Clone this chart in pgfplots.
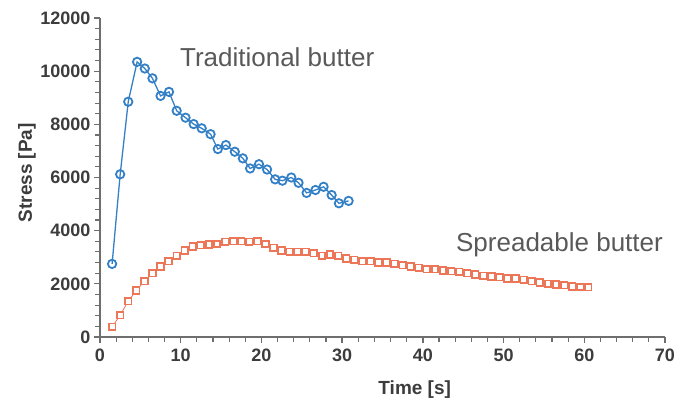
\documentclass[border=0pt]{standalone}
\usepackage{pgfplots}
\pgfplotsset{compat=1.18}
\usepackage{fontspec}
\setmainfont{Liberation Sans}
\definecolor{tradblue}{RGB}{52,128,198}
\definecolor{spreadred}{RGB}{236,118,88}
\definecolor{axgray}{RGB}{110,110,110}
\definecolor{txtgray}{RGB}{60,60,60}
\begin{document}
\begin{tikzpicture}
\begin{axis}[
  scale only axis, width=565pt, height=319pt,
  xmin=0, xmax=70, ymin=0, ymax=12000,
  axis x line*=bottom, axis y line*=left,
  axis line style={axgray, line width=1.2pt},
  xtick={0,10,...,70}, ytick={0,2000,...,12000},
  minor x tick num=4, minor y tick num=4,
  major tick style={draw=axgray, line width=1.3pt},
  minor tick style={draw=axgray, line width=1.1pt},
  major tick length=6pt, minor tick length=4.5pt,
  tick align=outside,
  /pgf/number format/assume math mode=true,
  scaled y ticks=false,
  y tick label style={/pgf/number format/1000 sep={}},
  ticklabel style={font=\bfseries\fontsize{18}{18}\selectfont, text=txtgray},
  x tick label style={yshift=-2pt},
  clip=false,
  xlabel={Time [s]}, ylabel={Stress [Pa]},
  label style={font=\bfseries\fontsize{19}{19}\selectfont, text=txtgray},
  xlabel style={at={([yshift=-53pt]axis description cs:0.557,0)}, anchor=center},
  ylabel style={at={([xshift=-73pt]axis description cs:0,0.515)}, anchor=center},
]
\addplot[color=tradblue, line width=1.3pt, mark=o, mark size=4.2pt, mark options={line width=1.8pt, fill=white}] table {
x y
1.5 2750
2.5 6120
3.5 8850
4.6 10350
5.55 10100
6.5 9730
7.5 9070
8.55 9220
9.5 8510
10.6 8250
11.6 8010
12.6 7850
13.7 7630
14.6 7070
15.6 7220
16.7 6970
17.7 6720
18.6 6340
19.7 6500
20.7 6300
21.7 5930
22.6 5880
23.7 6000
24.6 5800
25.6 5420
26.7 5530
27.7 5650
28.7 5340
29.6 5030
30.8 5120
};
\addplot[color=spreadred, line width=0.8pt, mark=square*, mark size=3.3pt, mark options={line width=1.7pt, fill=white}] table {
x y
1.5 380
2.5 820
3.5 1350
4.5 1750
5.5 2100
6.5 2400
7.5 2650
8.5 2850
9.5 3050
10.5 3250
11.5 3400
12.5 3450
13.5 3480
14.5 3500
15.5 3580
16.5 3600
17.5 3600
18.5 3580
19.5 3600
20.5 3500
21.5 3350
22.5 3250
23.5 3200
24.5 3200
25.5 3200
26.5 3150
27.5 3050
28.5 3100
29.5 3050
30.5 2950
31.5 2900
32.5 2850
33.5 2850
34.5 2800
35.5 2800
36.5 2750
37.5 2700
38.5 2650
39.5 2600
40.5 2550
41.5 2550
42.5 2500
43.5 2480
44.5 2450
45.5 2400
46.5 2350
47.5 2300
48.5 2280
49.5 2250
50.5 2200
51.5 2200
52.5 2150
53.5 2100
54.5 2050
55.5 2000
56.5 1980
57.5 1950
58.5 1900
59.5 1880
60.5 1870
};
\node[anchor=west, inner sep=0pt, font=\fontsize{26}{26}\selectfont, text=txtgray!85] at (axis cs:9.9,10530) {Traditional butter};
\node[anchor=west, inner sep=0pt, font=\fontsize{26}{26}\selectfont, text=txtgray!85] at (axis cs:44.1,3460) {Spreadable butter};
\end{axis}
\pgfresetboundingbox
\path[use as bounding box] (-100pt,-65pt) rectangle (575pt,337pt);
\end{tikzpicture}
\end{document}
